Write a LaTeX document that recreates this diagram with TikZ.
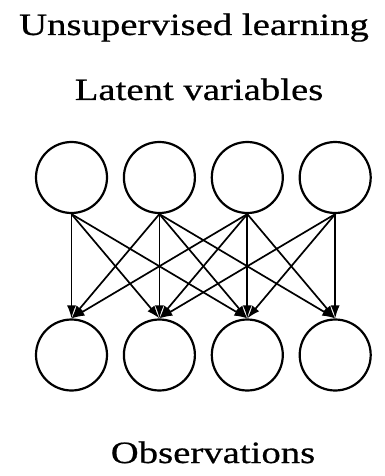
\documentclass[tikz,border=0pt]{standalone}
\usepackage{fontspec}
\usepackage{tikz}
\usetikzlibrary{positioning}
\usetikzlibrary{arrows.meta}
\newfontfamily\captionFont{Liberation Serif}[FakeStretch=1.25, FakeBold=0.6]
\tikzstyle{pixelGrid} = [x = 1pt, y = -1pt]
\tikzstyle{unitStyle} = [circle, draw=black, line width = 2.2pt, minimum size = 71pt, inner sep = 0pt]
\tikzstyle{weightStyle} = [draw=black, line width = 1.7pt, -{Latex[length = 13pt, width = 9pt]}]
\tikzstyle{captionStyle} = [font=\captionFont\fontsize{31}{33}\selectfont, anchor = base, inner sep = 0pt]
\newcommand{\unitGap}{87.9}
\newcommand{\unitRow}[2]{
  \foreach \unit in {1,...,4} {
    \pgfmathsetmacro{\var}{71.5 + \unitGap * (\unit - 1)}
    \node [unitStyle] (#1\unit) at (\var, #2) {};
  }
}

\begin{document}
\begin{tikzpicture}[pixelGrid]
  \useasboundingbox (0,0) rectangle (384,476);
  \node [captionStyle] (title) at (194, 35) {Unsupervised learning};
  \node [captionStyle] (latentText) at (199, 100) {Latent variables};
  \node [captionStyle] (obsText) at (213, 463) {Observations};

  \unitRow{latent}{177.5}
  \unitRow{obs}{355}

  % each latent unit feeds the observations within two places of it
  \foreach \from in {1,...,4} {
    \foreach \to in {1,...,4} {
      \pgfmathtruncatemacro{\var}{abs(\from - \to)}
      \ifnum \var < 3
        \draw [weightStyle] (latent\from.south) -- (obs\to.north);
      \fi
    }
  }
\end{tikzpicture}
\end{document}
